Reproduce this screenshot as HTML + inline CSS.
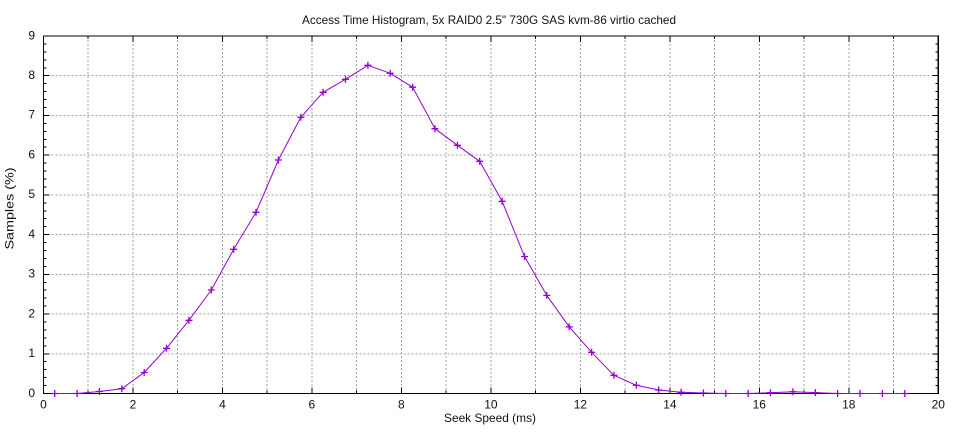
<!DOCTYPE html>
<html><head><meta charset="utf-8"><style>
html,body{margin:0;padding:0;background:#fff;}
svg{display:block;font-family:"Liberation Sans",sans-serif;}
</style></head><body>
<svg width="960" height="432" viewBox="0 0 960 432" xmlns="http://www.w3.org/2000/svg">
<rect width="960" height="432" fill="#fff"/>
<!-- grid -->
<g stroke="#a0a0a0" stroke-width="1" stroke-dasharray="2,2" fill="none" shape-rendering="crispEdges">
<path d="M88.2 36V393.5M133 36V393.5M177.7 36V393.5M222.5 36V393.5M267.2 36V393.5M311.9 36V393.5M356.7 36V393.5M401.4 36V393.5M446.2 36V393.5M490.9 36V393.5M535.6 36V393.5M580.4 36V393.5M625.1 36V393.5M669.9 36V393.5M714.6 36V393.5M759.3 36V393.5M804.1 36V393.5M848.8 36V393.5M893.6 36V393.5"/>
<path d="M43.5 353.8H938.3M43.5 314.1H938.3M43.5 274.3H938.3M43.5 234.6H938.3M43.5 194.9H938.3M43.5 155.2H938.3M43.5 115.5H938.3M43.5 75.7H938.3"/>
</g>
<!-- ticks -->
<g stroke="#000" stroke-width="1" fill="none" shape-rendering="crispEdges">
<path d="M43.5 353.8h6M43.5 314.1h6M43.5 274.3h6M43.5 234.6h6M43.5 194.9h6M43.5 155.2h6M43.5 115.5h6M43.5 75.7h6
M938.3 353.8h-6M938.3 314.1h-6M938.3 274.3h-6M938.3 234.6h-6M938.3 194.9h-6M938.3 155.2h-6M938.3 115.5h-6M938.3 75.7h-6"/>
<path d="M43.5 385.6h3M43.5 377.6h3M43.5 369.7h3M43.5 361.7h3M43.5 345.8h3M43.5 337.9h3M43.5 330h3M43.5 322h3M43.5 306.1h3M43.5 298.2h3M43.5 290.2h3M43.5 282.3h3M43.5 266.4h3M43.5 258.5h3M43.5 250.5h3M43.5 242.6h3M43.5 226.7h3M43.5 218.7h3M43.5 210.8h3M43.5 202.8h3M43.5 187h3M43.5 179h3M43.5 171.1h3M43.5 163.1h3M43.5 147.2h3M43.5 139.3h3M43.5 131.4h3M43.5 123.4h3M43.5 107.5h3M43.5 99.6h3M43.5 91.6h3M43.5 83.7h3M43.5 67.8h3M43.5 59.9h3M43.5 51.9h3M43.5 44h3"/>
<path d="M938.3 385.6h-3M938.3 377.6h-3M938.3 369.7h-3M938.3 361.7h-3M938.3 345.8h-3M938.3 337.9h-3M938.3 330h-3M938.3 322h-3M938.3 306.1h-3M938.3 298.2h-3M938.3 290.2h-3M938.3 282.3h-3M938.3 266.4h-3M938.3 258.5h-3M938.3 250.5h-3M938.3 242.6h-3M938.3 226.7h-3M938.3 218.7h-3M938.3 210.8h-3M938.3 202.8h-3M938.3 187h-3M938.3 179h-3M938.3 171.1h-3M938.3 163.1h-3M938.3 147.2h-3M938.3 139.3h-3M938.3 131.4h-3M938.3 123.4h-3M938.3 107.5h-3M938.3 99.6h-3M938.3 91.6h-3M938.3 83.7h-3M938.3 67.8h-3M938.3 59.9h-3M938.3 51.9h-3M938.3 44h-3"/>
<path d="M133 393.5v-6M222.5 393.5v-6M311.9 393.5v-6M401.4 393.5v-6M490.9 393.5v-6M580.4 393.5v-6M669.9 393.5v-6M759.3 393.5v-6M848.8 393.5v-6
M133 36v6M222.5 36v6M311.9 36v6M401.4 36v6M490.9 36v6M580.4 36v6M669.9 36v6M759.3 36v6M848.8 36v6
M88.2 393.5v-3M177.7 393.5v-3M267.2 393.5v-3M356.7 393.5v-3M446.2 393.5v-3M535.6 393.5v-3M625.1 393.5v-3M714.6 393.5v-3M804.1 393.5v-3M893.6 393.5v-3
M88.2 36v3M177.7 36v3M267.2 36v3M356.7 36v3M446.2 36v3M535.6 36v3M625.1 36v3M714.6 36v3M804.1 36v3M893.6 36v3"/>
</g>
<!-- border -->
<rect x="43.5" y="36" width="894.8" height="357.5" fill="none" stroke="#000" stroke-width="1.2" shape-rendering="crispEdges"/>
<!-- series -->
<polyline fill="none" stroke="#9400d3" stroke-width="1" stroke-linejoin="round" points="54.7,393.5 77.1,393.5 99.4,391.5 121.8,388.7 144.2,372.5 166.5,348.3 188.9,320.3 211.3,290 233.7,249.3 256,212.3 278.4,160 300.8,117.3 323.1,92.3 345.5,79.3 367.9,65.3 390.2,73.3 412.6,87.2 435,128.7 457.4,145.3 479.7,161.3 502.1,201.3 524.5,256.5 546.8,295.4 569.2,326.8 591.6,352.3 613.9,375.3 636.3,385.3 658.7,390 681.1,392.3 703.4,393 725.8,393.5 748.2,393.5 770.5,392.7 792.9,391.8 815.3,392.6 837.6,393.5 860,393.5 882.4,393.5 904.8,393.5"/>
<path fill="none" stroke="#9400d3" stroke-width="1.3" d="
M51.2 393.5h7M54.7 390v7
M73.6 393.5h7M77.1 390v7
M95.9 391.5h7M99.4 388v7
M118.3 388.7h7M121.8 385.2v7
M140.7 372.5h7M144.2 369v7
M163 348.3h7M166.5 344.8v7
M185.4 320.3h7M188.9 316.8v7
M207.8 290h7M211.3 286.5v7
M230.2 249.3h7M233.7 245.8v7
M252.5 212.3h7M256 208.8v7
M274.9 160h7M278.4 156.5v7
M297.3 117.3h7M300.8 113.8v7
M319.6 92.3h7M323.1 88.8v7
M342 79.3h7M345.5 75.8v7
M364.4 65.3h7M367.9 61.8v7
M386.7 73.3h7M390.2 69.8v7
M409.1 87.2h7M412.6 83.7v7
M431.5 128.7h7M435 125.2v7
M453.9 145.3h7M457.4 141.8v7
M476.2 161.3h7M479.7 157.8v7
M498.6 201.3h7M502.1 197.8v7
M521 256.5h7M524.5 253v7
M543.3 295.4h7M546.8 291.9v7
M565.7 326.8h7M569.2 323.3v7
M588.1 352.3h7M591.6 348.8v7
M610.4 375.3h7M613.9 371.8v7
M632.8 385.3h7M636.3 381.8v7
M655.2 390h7M658.7 386.5v7
M677.6 392.3h7M681.1 388.8v7
M699.9 393h7M703.4 389.5v7
M722.3 393.5h7M725.8 390v7
M744.7 393.5h7M748.2 390v7
M767 392.7h7M770.5 389.2v7
M789.4 391.8h7M792.9 388.3v7
M811.8 392.6h7M815.3 389.1v7
M834.1 393.5h7M837.6 390v7
M856.5 393.5h7M860 390v7
M878.9 393.5h7M882.4 390v7
M901.3 393.5h7M904.8 390v7"/>
<!-- labels -->
<g font-size="12" fill="#111">
<text x="489" y="24" text-anchor="middle" textLength="374" lengthAdjust="spacingAndGlyphs">Access Time Histogram, 5x RAID0 2.5" 730G SAS kvm-86 virtio cached</text>
<g text-anchor="end">
<text x="35" y="397">0</text>
<text x="35" y="357">1</text>
<text x="35" y="317.5">2</text>
<text x="35" y="277.5">3</text>
<text x="35" y="238">4</text>
<text x="35" y="198">5</text>
<text x="35" y="158.5">6</text>
<text x="35" y="118.5">7</text>
<text x="35" y="79">8</text>
<text x="35" y="39.5">9</text>
</g>
<g text-anchor="middle">
<text x="43.5" y="408.3">0</text>
<text x="133" y="408.3">2</text>
<text x="222.5" y="408.3">4</text>
<text x="311.9" y="408.3">6</text>
<text x="401.4" y="408.3">8</text>
<text x="490.9" y="408.3">10</text>
<text x="580.4" y="408.3">12</text>
<text x="669.9" y="408.3">14</text>
<text x="759.3" y="408.3">16</text>
<text x="848.8" y="408.3">18</text>
<text x="938.3" y="408.3">20</text>
<text x="490" y="422" textLength="92" lengthAdjust="spacingAndGlyphs">Seek Speed (ms)</text>
<text transform="translate(13.5,208.5) rotate(-90)" x="0" y="0" textLength="82" lengthAdjust="spacingAndGlyphs">Samples (%)</text>
</g>
</g>
</svg>
</body></html>
